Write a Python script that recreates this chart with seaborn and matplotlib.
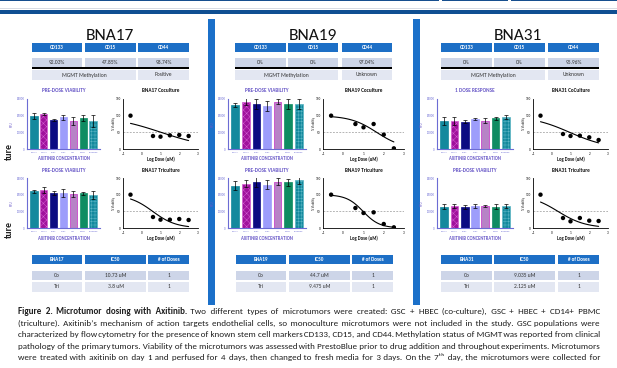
import numpy as np
import pandas as pd
import matplotlib
matplotlib.use("Agg")
import matplotlib.pyplot as plt
import seaborn as sns
from matplotlib.patches import Rectangle
from matplotlib import font_manager as fm

sns.set_theme(style="white")
installed = {f.name for f in fm.fontManager.ttflist}
BASE_FONT = next(f for f in ["Carlito", "Lato", "DejaVu Sans"] if f in installed)
plt.rcParams["font.family"] = [BASE_FONT, "DejaVu Sans"]
plt.rcParams["hatch.linewidth"] = 0.35

W, H = 617, 368

# ---------------- data ----------------
samples = ["BNA17", "BNA19", "BNA31"]
marker_names = ["CD133", "CD15", "CD44"]
bna17_markers = ["92.03%", "47.85%", "98.74%"]
bna19_markers = ["0%", "0%", "97.04%"]
bna31_markers = ["0%", "0%", "95.96%"]
mgmt_status = ["Positive", "Unknown", "Unknown"]

conc_labels = ["300uM", "100uM", "30uM", "10uM", "4uM", "DMSO", "Untreated"]

bna17_co_rfu = [19900, 20900, 17500, 19100, 17100, 18700, 16900]
bna17_co_err = [2000, 600, 600, 1600, 2400, 1600, 3400]
bna17_tri_rfu = [22000, 22600, 21000, 20800, 20400, 20800, 20000]
bna17_tri_err = [1000, 1800, 1200, 2400, 2000, 1000, 2400]

bna19_co_rfu = [26600, 28500, 27300, 25800, 28300, 27300, 27300]
bna19_co_err = [1200, 2000, 3000, 2800, 1500, 3000, 3000]
bna19_tri_rfu = [25500, 26700, 27500, 26100, 27900, 27500, 28600]
bna19_tri_err = [2600, 2000, 3000, 2800, 2200, 2000, 2000]

bna31_co_rfu = [16700, 16900, 16500, 17900, 16900, 18500, 19300]
bna31_co_err = [2300, 2300, 1000, 500, 1500, 1000, 1200]
bna31_tri_rfu = [12800, 13400, 12800, 13400, 13200, 12800, 13200]
bna31_tri_err = [1500, 1200, 1200, 1200, 800, 1600, 1300]

log_dose = [-0.6, 0.6, 1.0, 1.5, 2.0, 2.5]
bna17_co_viab = [100, 39, 37, 41, 42, 39]
bna17_tri_viab = [100, 33, 25, 25, 27, 24]
bna19_co_viab = [100, 75, 65, 75, 43, 2]
bna19_tri_viab = [100, 60, 45, 47, 12, 2]
bna31_co_viab = [100, 45, 39, 40, 35, 27]
bna31_tri_viab = [100, 30, 20, 30, 22, 21]

# IC50 (uM) for co-culture / triculture and fitted Hill slopes
bna17_ic50 = [10.73, 3.8]
bna19_ic50 = [44.7, 9.475]
bna31_ic50 = [9.035, 2.125]
bna17_hill = [0.32, 0.70]
bna19_hill = [0.67, 1.07]
bna31_hill = [0.42, 0.59]
bna17_ic50_text = ["10.73 uM", "3.8 uM"]
bna19_ic50_text = ["44.7 uM", "9.475 uM"]
bna31_ic50_text = ["9.035 uM", "2.125 uM"]
n_doses = ["1", "1"]
culture_rows = ["Co", "Tri"]
table_head = ["IC50", "# of Doses"]

bar_titles = [["PRE-DOSE VIABILITY", "PRE-DOSE VIABILITY"],
              ["PRE-DOSE VIABILITY", "PRE-DOSE VIABILITY"],
              ["1 DOSE RESPONSE", "PRE-DOSE VIABILITY"]]
dose_titles = [["BNA17 Coculture", "BNA17 Triculture"],
               ["BNA19 Coculture", "BNA19 Triculture"],
               ["BNA31 CoCulture", "BNA31 Triculture"]]

# ---------------- style ----------------
bar_colors = ["#13899d", "#a0119c", "#0b0b82", "#9d9dfb", "#b783c6", "#0f8c62", "#13899d"]
bar_edges = ["#13899d", "#d35ed0", "#0b0b82", "#9d9dfb", "#c62ec6", "#0f8c62", "#5cb6c4"]
bar_hatches = [None, "xxxxx", None, None, None, None, "+++++"]
AXPURPLE = "#6c6cd4"
TXTPURPLE = "#6a5ac8"
HDR_BLUE = "#1d6fc6"
ROW1 = "#cdd5e8"
ROW2 = "#e3e7f2"

fig = plt.figure(figsize=(W / 100, H / 100), dpi=100)
ov = fig.add_axes([0, 0, 1, 1])
ov.set_xlim(0, W)
ov.set_ylim(H, 0)
ov.axis("off")


def px_axes(x0, y0, x1, y1):
    return fig.add_axes([x0 / W, 1 - y1 / H, (x1 - x0) / W, (y1 - y0) / H])


def box(x0, y0, x1, y1, color):
    ov.add_patch(Rectangle((x0, y0), x1 - x0, y1 - y0, color=color, lw=0, clip_on=False))


def label(x, y, s, **kw):
    kw.setdefault("ha", "center")
    kw.setdefault("va", "center")
    return ov.text(x, y, s, clip_on=False, **kw)


# top banner lines
for a, b in [(0, 439), (442, 508), (511, W)]:
    box(a, 0, b, 1.3, "#174f8f")
box(0, 8.3, W, 9.0, "#d8dce4")
box(0, 10, W, 14.3, "#0f4f92")

# vertical separators
for sx in (208, 413):
    box(sx, 19, sx + 7, 305, "#1b70c9")

# side row labels (run off the left edge of the poster)
for y_cut, y_t in [(140, 152), (218, 230)]:
    label(0.5, y_cut, "Cultu", rotation=90, fontsize=7, fontweight="bold",
          color="#222", ha="right")
    label(9.5, y_t, "ture", rotation=90, fontsize=7, fontweight="bold", color="#222")


def bar_panel(x0, x1, y0, y1, vals, errs, title):
    ax = px_axes(x0, y0, x1, y1)
    ax.set_facecolor("none")
    df = pd.DataFrame({"conc": conc_labels, "rfu": vals})
    sns.barplot(data=df, x="conc", y="rfu", hue="conc", order=conc_labels,
                hue_order=conc_labels, palette=bar_colors, legend=False,
                errorbar=None, width=0.74, saturation=1, ax=ax)
    bars = sorted(ax.patches, key=lambda p: p.get_x())
    for p, ec, ht in zip(bars, bar_edges, bar_hatches):
        p.set_edgecolor(ec)
        p.set_linewidth(0.5)
        if ht:
            p.set_hatch(ht)
    ax.errorbar(np.arange(len(vals)), vals, yerr=errs, fmt="none", ecolor="black",
                elinewidth=0.5, capsize=1.3, capthick=0.5)
    ax.set_xlim(-0.7, len(vals) - 0.3)
    ax.set_ylim(0, 30000)
    ax.set_yticks([0, 10000, 20000, 30000])
    ax.set_yticklabels(["0", "10000", "20000", "30000"])
    ax.set_xlabel("")
    ax.set_ylabel("")
    ax.tick_params(axis="both", length=1.2, width=0.4, colors=AXPURPLE, pad=0.6)
    ax.tick_params(axis="y", labelsize=2.2, labelcolor=AXPURPLE)
    ax.tick_params(axis="x", labelsize=1.6, labelcolor=AXPURPLE)
    for s in ("top", "right"):
        ax.spines[s].set_visible(False)
    for s in ("left", "bottom"):
        ax.spines[s].set_color(AXPURPLE)
        ax.spines[s].set_linewidth(0.8)
    cx = (x0 + x1) / 2
    label(cx, y0 - 8, title, fontsize=3.8, fontweight="bold", color=TXTPURPLE)
    label(cx, y1 + 10, "AXITINIB CONCENTRATION", fontsize=3.3, fontweight="bold", color=TXTPURPLE)
    label(x0 - 15, (y0 + y1) / 2, "RFU", rotation=90, fontsize=2.4, color=TXTPURPLE)


def dose_panel(x0, x1, y0, y1, viab, ic50, hill, title):
    ax = px_axes(x0, y0, x1, y1)
    ax.set_facecolor("none")
    ax.axhline(50, color="#a8a8a8", lw=0.6, ls=(0, (2.2, 1.6)), zorder=1)
    xs = np.linspace(min(log_dose), max(log_dose), 120)
    fit = 100.0 / (1.0 + 10 ** ((xs - np.log10(ic50)) * hill))
    ax.plot(xs, fit, color="black", lw=0.8, zorder=2)
    sns.scatterplot(x=log_dose, y=viab, color="black", s=10, edgecolor="none", ax=ax, zorder=3)
    ax.set_xlim(-1, 3)
    ax.set_ylim(0, 150)
    ax.set_xticks([-1, 0, 1, 2, 3])
    ax.set_yticks([0, 50, 100, 150])
    ax.set_xlabel("")
    ax.set_ylabel("")
    ax.tick_params(axis="both", length=1.2, width=0.4, labelsize=2.4, pad=0.6,
                   colors="black")
    for s in ("top", "right"):
        ax.spines[s].set_visible(False)
    for s in ("left", "bottom"):
        ax.spines[s].set_color("black")
        ax.spines[s].set_linewidth(0.6)
    cx = (x0 + x1) / 2
    label(cx, y0 - 8, title, fontsize=3.8, fontweight="bold", color="#111")
    label(cx, y1 + 10, "Log Dose (uM)", fontsize=3.3, fontweight="bold", color="#111")
    label(x0 - 9, (y0 + y1) / 2, "% Viability", rotation=90, fontsize=2.2, color="#111")


# per-panel geometry (pixels)
title_x = [110, 313, 518]
hdr_cols = [[(32, 82), (85, 136), (138, 189)],
            [(235, 286), (288, 338), (342, 392)],
            [(441, 492), (494, 545), (548, 599)]]
tbl_cols = [[(32, 82), (85, 146), (148, 189)],
            [(236, 286), (289, 350), (352, 393)],
            [(441, 492), (494, 555), (558, 599)]]
bar_x = [(27, 100), (228, 306), (437, 513)]
dose_x = [(123, 198), (323, 404), (533, 608)]

markers_all = [bna17_markers, bna19_markers, bna31_markers]
co_rfu = [bna17_co_rfu, bna19_co_rfu, bna31_co_rfu]
co_err = [bna17_co_err, bna19_co_err, bna31_co_err]
tri_rfu = [bna17_tri_rfu, bna19_tri_rfu, bna31_tri_rfu]
tri_err = [bna17_tri_err, bna19_tri_err, bna31_tri_err]
co_viab = [bna17_co_viab, bna19_co_viab, bna31_co_viab]
tri_viab = [bna17_tri_viab, bna19_tri_viab, bna31_tri_viab]
ic50s = [bna17_ic50, bna19_ic50, bna31_ic50]
hills = [bna17_hill, bna19_hill, bna31_hill]
ic50_txt = [bna17_ic50_text, bna19_ic50_text, bna31_ic50_text]

for i, name in enumerate(samples):
    label(title_x[i], 36, name, fontsize=12.5, color="#111")
    cols = hdr_cols[i]
    for (a, b), m, v in zip(cols, marker_names, markers_all[i]):
        box(a, 43, b, 51.5, HDR_BLUE)
        label((a + b) / 2, 47.3, m, fontsize=3.7, fontweight="bold", color="white")
        box(a, 58, b, 66.5, ROW1)
        label((a + b) / 2, 62.3, v, fontsize=4.0, color="#333")
    box(cols[0][0], 66.8, cols[2][1], 69.2, "black")
    box(cols[0][0], 70, cols[1][1], 80, ROW2)
    box(cols[2][0], 70, cols[2][1], 80, ROW2)
    label((cols[0][0] + cols[1][1]) / 2, 75, "MGMT Methylation", fontsize=4.0, color="#333")
    label((cols[2][0] + cols[2][1]) / 2, 75, mgmt_status[i], fontsize=4.0, color="#333")

    bar_panel(bar_x[i][0], bar_x[i][1], 99, 149, co_rfu[i], co_err[i], bar_titles[i][0])
    bar_panel(bar_x[i][0], bar_x[i][1], 178, 228, tri_rfu[i], tri_err[i], bar_titles[i][1])
    dose_panel(dose_x[i][0], dose_x[i][1], 99, 149, co_viab[i], ic50s[i][0], hills[i][0],
               dose_titles[i][0])
    dose_panel(dose_x[i][0], dose_x[i][1], 178, 228, tri_viab[i], ic50s[i][1], hills[i][1],
               dose_titles[i][1])

    tcols = tbl_cols[i]
    for (a, b), h in zip(tcols, [name] + table_head):
        box(a, 255, b, 264, HDR_BLUE)
        label((a + b) / 2, 259.7, h, fontsize=3.7, fontweight="bold", color="white")
    for r, (yt, yb, col) in enumerate([(271, 280, ROW1), (282, 292, ROW2)]):
        cells = [culture_rows[r], ic50_txt[i][r], n_doses[r]]
        for (a, b), c in zip(tcols, cells):
            box(a, yt, b, yb, col)
            label((a + b) / 2, (yt + yb) / 2, c, fontsize=4.0, color="#333")

# ---------------- caption: one text per line, justified with hair spaces ----------------
bold_lead = "Figure 2. Microtumor dosing with Axitinib."
cap_lines = [
    bold_lead + " Two different types of microtumors were created: GSC + HBEC (co-culture), GSC + HBEC + CD14+ PBMC",
    "(triculture). Axitinib\u2019s mechanism of action targets endothelial cells, so monoculture microtumors were not included in the study. GSC populations were",
    "characterized by flow cytometry for the presence of known stem cell markers CD133, CD15, and CD44. Methylation status of MGMT was reported from clinical",
    "pathology of the primary tumors. Viability of the microtumors was assessed with PrestoBlue prior to drug addition and throughout experiments. Microtumors",
    "were treated with axitinib on day 1 and perfused for 4 days, then changed to fresh media for 3 days. On the 7\u1d57\u02b0 day, the microtumors were collected for",
]
cap_baseline = [314, 325.5, 337, 348.5, 360]
CAP_L, CAP_R = 18, 600
MIN_GAP = 2.0
BASE = 7.0
CAP_COLOR = "#1e1e1e"
n_bold = len(bold_lead.split())
renderer = fig.canvas.get_renderer()


def measure(s, size, weight="normal"):
    t = ov.text(0, 0, s, fontsize=size, fontweight=weight, ha="left", va="baseline")
    w = t.get_window_extent(renderer=renderer).width
    t.remove()
    return w


def weight_of(li, wi):
    return "bold" if (li == 0 and wi < n_bold) else "normal"


# largest font size at which every line still fits with a normal word gap
scale = 1.0
for li, line in enumerate(cap_lines):
    words = line.split(" ")
    tot = sum(measure(w, BASE, weight_of(li, wi)) for wi, w in enumerate(words))
    scale = min(scale, (CAP_R - CAP_L - (len(words) - 1) * MIN_GAP) / tot)
fs = BASE * scale

# width of the filler space used between words
filler = None
for cand in ["\u200a", "\u2009", " "]:
    w = (measure("x" + cand * 20 + "x", fs) - measure("xx", fs)) / 20
    if w > 0.3:
        filler, fw = cand, w
        break

for li, (line, y) in enumerate(zip(cap_lines, cap_baseline)):
    words = line.split(" ")
    ww = [measure(w, fs, weight_of(li, wi)) for wi, w in enumerate(words)]
    g = (CAP_R - CAP_L - sum(ww)) / (len(words) - 1)
    counts = [int(round((j + 1) * g / fw)) - int(round(j * g / fw)) for j in range(len(words) - 1)]
    nb = n_bold if li == 0 else 0
    chunks = []
    if nb:
        chunks.append((0, nb, "bold"))
    chunks.append((nb, len(words), "normal"))
    for start, stop, wt in chunks:
        x = CAP_L + sum(ww[:start]) + fw * sum(counts[:start])
        s = ""
        if start > 0:
            s = filler * counts[start - 1]
            x -= fw * counts[start - 1]
        for j in range(start, stop):
            s += words[j]
            if j < stop - 1:
                s += filler * counts[j]
        label(x, y, s, fontsize=fs, fontweight=wt, color=CAP_COLOR, ha="left", va="baseline")

fig.savefig("out.png", dpi=100)
